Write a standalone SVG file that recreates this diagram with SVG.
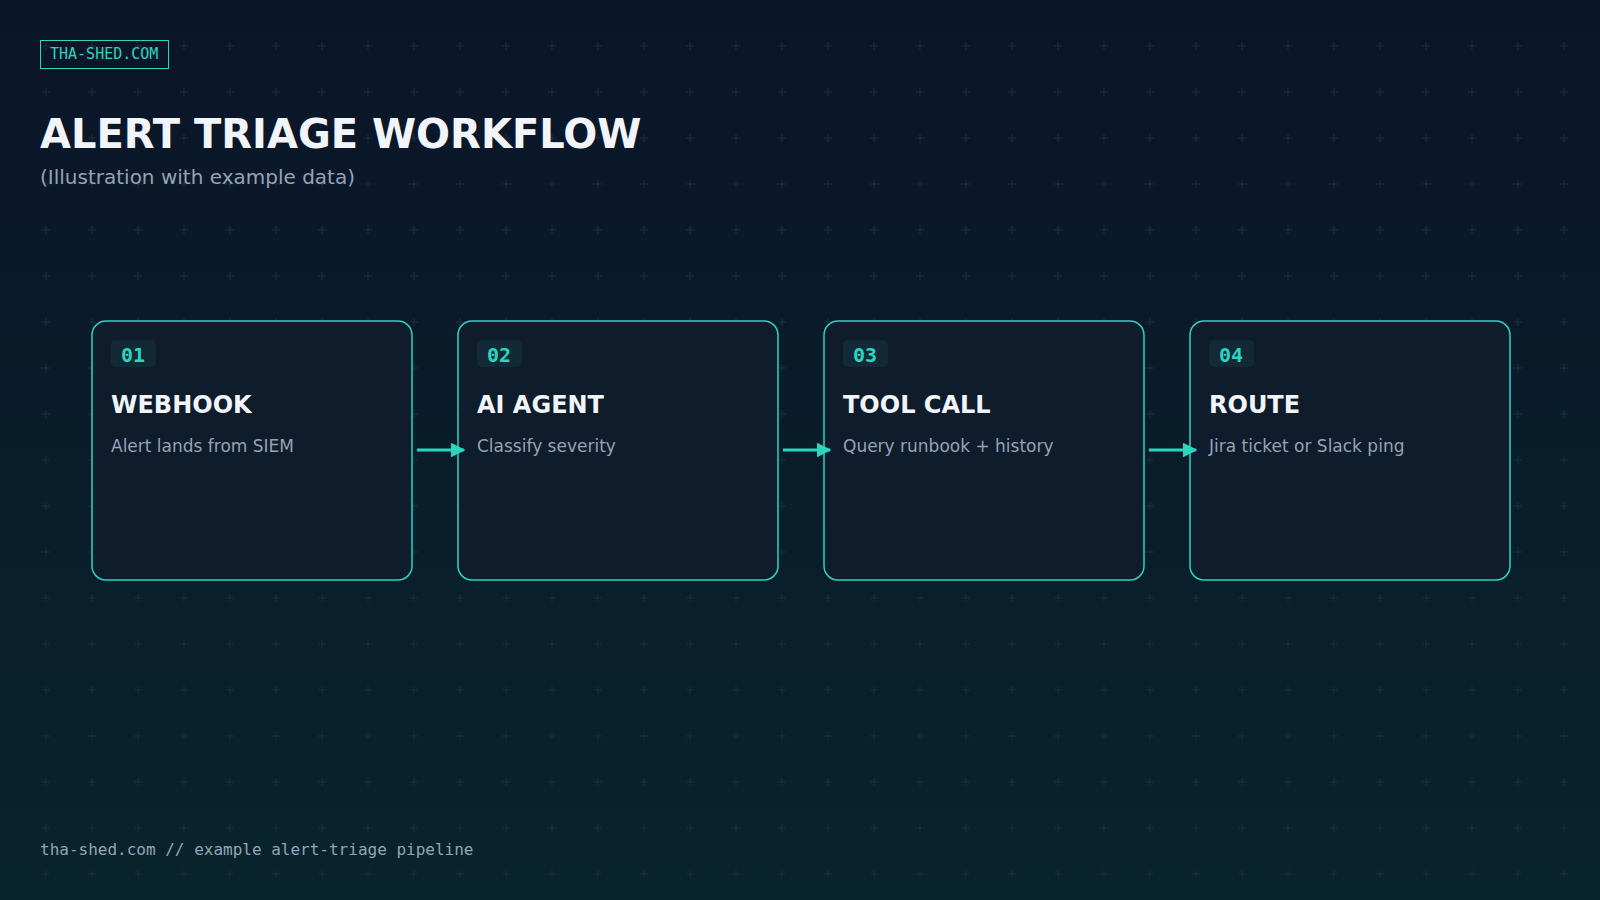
<svg xmlns="http://www.w3.org/2000/svg" width="1600" height="900" viewBox="0 0 1600 900">
<defs>
<linearGradient id="bg" x1="0" y1="0" x2="0" y2="1"><stop offset="0" stop-color="#0b1529"/><stop offset="1" stop-color="#08242c"/></linearGradient>
<pattern id="grid" x="23" y="23" width="46" height="46" patternUnits="userSpaceOnUse"><path d="M19 23h8M23 19v8" stroke="#17303b" stroke-width="1"/></pattern>
<marker id="ah" viewBox="0 0 10 10" refX="9" refY="5" markerWidth="5" markerHeight="5" orient="auto" markerUnits="strokeWidth"><path d="M0 0L10 5L0 10z" fill="#2dd4bf"/></marker>
<style>
.card{fill:#0e1c2c;stroke:#2dd4bf;stroke-width:1.5}
.badge{fill:#132a36}
.num{font-family:"DejaVu Sans Mono",monospace;font-weight:bold;font-size:20px;fill:#2dd4bf}
.ttl{font-family:"DejaVu Sans",sans-serif;font-weight:bold;font-size:24px;fill:#f1f5f9}
.desc{font-family:"DejaVu Sans",sans-serif;font-size:17px;fill:#94a3b8}
.con{stroke:#2dd4bf;stroke-width:3;fill:none}
</style>
</defs>
<rect width="1600" height="900" fill="url(#bg)"/>
<rect x="23" y="23" width="1564" height="864" fill="url(#grid)"/>
<rect x="40.5" y="40.5" width="128" height="28" fill="none" stroke="#2dd4bf" stroke-width="1"/>
<text x="50" y="59" font-family="DejaVu Sans Mono,monospace" font-size="15" fill="#2dd4bf">THA-SHED.COM</text>
<text x="40" y="148" font-family="DejaVu Sans,sans-serif" font-weight="bold" font-size="40" fill="#f1f5f9">ALERT TRIAGE WORKFLOW</text>
<text x="40" y="184" font-family="DejaVu Sans,sans-serif" font-size="20" fill="#94a3b8">(Illustration with example data)</text>
<g id="n1"><rect class="card" x="92" y="321" width="320" height="259" rx="14"/><rect class="badge" x="111" y="340" width="45" height="27" rx="5"/><text class="num" x="121" y="362">01</text><text class="ttl" x="111" y="413">WEBHOOK</text><text class="desc" x="111" y="452">Alert lands from SIEM</text></g>
<g id="n2"><rect class="card" x="458" y="321" width="320" height="259" rx="14"/><rect class="badge" x="477" y="340" width="45" height="27" rx="5"/><text class="num" x="487" y="362">02</text><text class="ttl" x="477" y="413">AI AGENT</text><text class="desc" x="477" y="452">Classify severity</text></g>
<g id="n3"><rect class="card" x="824" y="321" width="320" height="259" rx="14"/><rect class="badge" x="843" y="340" width="45" height="27" rx="5"/><text class="num" x="853" y="362">03</text><text class="ttl" x="843" y="413">TOOL CALL</text><text class="desc" x="843" y="452">Query runbook + history</text></g>
<g id="n4"><rect class="card" x="1190" y="321" width="320" height="259" rx="14"/><rect class="badge" x="1209" y="340" width="45" height="27" rx="5"/><text class="num" x="1219" y="362">04</text><text class="ttl" x="1209" y="413">ROUTE</text><text class="desc" x="1209" y="452">Jira ticket or Slack ping</text></g>
<g id="connectors">
<path class="con" d="M417 450H464" marker-end="url(#ah)"/>
<path class="con" d="M783 450H830" marker-end="url(#ah)"/>
<path class="con" d="M1149 450H1196" marker-end="url(#ah)"/>
</g>
<text x="40" y="855" font-family="DejaVu Sans Mono,monospace" font-size="16" fill="#94a3b8">tha-shed.com // example alert-triage pipeline</text>
</svg>
